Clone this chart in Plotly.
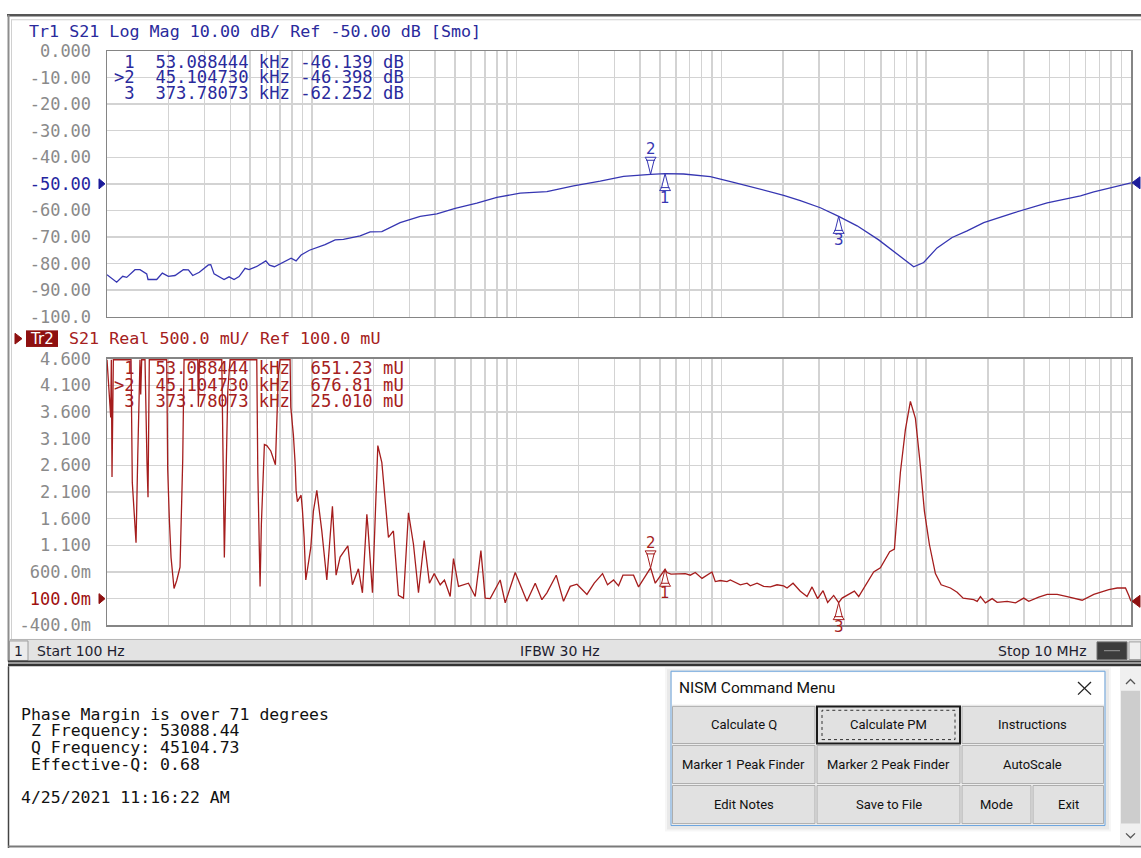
import numpy as np
import plotly.graph_objects as go

W, H = 1141, 858
MONO = "DejaVu Sans Mono"
SANS = "DejaVu Sans"
UI = "Roboto"

# ---------------- data ----------------
top_freq_hz = [100, 111.5, 119.3, 124.8, 137.0, 144.9, 156.3, 158.6, 174.9, 186.3, 199.3, 214.9,
               235.9, 249.6, 262.2, 282.4, 312.6, 321.1, 333.3, 372.9, 394.5, 417.3, 441.5, 472.3,
               494.0, 538.6, 596.3, 620.9, 656.8, 726.6, 792.4, 838.2, 886.7, 973.4, 1161, 1300,
               1427, 1722, 1927, 2198, 2413, 2700, 3382, 4080, 5013, 6397, 8011, 10410, 14060,
               18970, 25610, 33290, 45105, 53088, 65360, 88270, 114700, 154900, 201300, 242900,
               304200, 373781, 459700, 586100, 721000, 869000, 972300, 1130000, 1338000, 1584000,
               1910000, 2676000, 3896000, 5667000, 6581000, 10000000]
top_logmag_db = [-84.2, -87.0, -84.8, -85.2, -82.3, -82.3, -83.9, -86.0, -86.0, -83.6, -84.8, -84.5,
                 -82.3, -82.4, -84.5, -83.3, -80.5, -80.4, -83.9, -86.0, -85.0, -86.0, -84.9, -81.8,
                 -82.3, -81.1, -79.0, -80.6, -81.2, -79.6, -78.0, -79.0, -76.8, -75.0, -72.9, -71.1,
                 -70.9, -69.6, -68.1, -68.0, -66.4, -64.6, -62.2, -61.3, -59.2, -57.3, -55.1, -53.5,
                 -52.9, -50.8, -49.0, -47.2, -46.40, -46.14, -46.3, -47.3, -49.4, -52.1, -54.3,
                 -56.3, -59.0, -62.25, -65.8, -71.1, -76.3, -81.2, -79.6, -74.1, -70.2, -67.7,
                 -64.6, -60.9, -57.2, -54.5, -53.0, -49.6]

bot_freq_hz = [100, 104.3, 105.0, 105.8, 107.4, 131.0, 132.9, 135.0, 137.0, 138.6, 141.3, 144.9,
               146.1, 147.7, 153.3, 155.1, 156.8, 158.6, 160.9, 195.7, 197.9, 201.5, 205.5, 212.5,
               219.0, 227.3, 234.3, 237.8, 277.5, 279.3, 282.5, 363.4, 367.5, 370.0, 374.1, 378.4,
               384.5, 388.9, 399.0, 538.6, 545.0, 554.6, 559.0, 567.3, 586.8, 603.0, 630.7, 664.2,
               674.6, 686.8, 700.0, 783.4, 789.6, 813.0, 828.7, 838.1, 850.5, 886.6, 899.7, 917.1,
               934.8, 988.8, 1018, 1058, 1119, 1184, 1261, 1314, 1375, 1500, 1579, 1689, 1767,
               1857, 1878, 1978, 2101, 2198, 2367, 2503, 2649, 2803, 2965, 3136, 3318, 3538, 3753,
               3959, 4236, 4444, 4739, 4918, 5203, 5821, 6279, 6694, 7025, 7430, 8316, 8798, 9844,
               11230, 12330, 13290, 14060, 15610, 16950, 18270, 19710, 22050, 23940, 26280, 27800,
               29750, 31470, 33060, 37240, 39400, 45105, 47540, 53088, 54240, 56730, 61790, 66640,
               70470, 74560, 80410, 89950, 93370, 98760, 106500, 110500, 123700, 133400, 138400,
               149300, 160800, 173400, 186900, 201300, 209200, 223800, 242900, 261900, 277100,
               295100, 313600, 330300, 353300, 373781, 388400, 426400, 446000, 468100, 495000,
               554000, 597500, 663300, 699400, 721000, 748200, 791400, 837200, 885900, 929800,
               980000, 1036000, 1109000, 1183000, 1313000, 1416000, 1515000, 1706000, 1773000,
               1840000, 1946000, 2099000, 2220000, 2485000, 2728000, 2995000, 3168000, 3544000,
               3896000, 4360000, 4880000, 5775000, 6581000, 7791000, 8564000, 9400000, 9757000,
               10000000]
bot_real_u = [4.58, 3.50, 4.58, 2.38, 4.58, 4.58, 2.28, 1.91, 1.39, 1.15, 2.77, 4.58,
              3.93, 4.58, 4.58, 3.32, 2.64, 2.00, 4.58, 4.58, 2.52, 1.60, 0.87, 0.29,
              0.44, 0.69, 2.71, 4.58, 4.58, 3.70, 4.58, 4.58, 3.13, 1.79, 0.87, 1.79,
              3.01, 4.00, 4.58, 4.58, 2.47, 1.06, 0.33, 1.50, 2.99, 2.97, 2.87, 2.61,
              3.33, 4.31, 4.58, 4.58, 3.69, 3.17, 2.65, 2.13, 1.92, 2.04, 1.77, 1.25,
              0.45, 1.06, 1.74, 2.13, 1.37, 0.45, 1.83, 0.54, 0.88, 1.09, 0.36, 0.66, 0.21,
              1.68, 1.46, 0.21, 2.97, 2.65, 1.25, 1.37, 0.16, 0.11, 1.71, 1.12, 0.21, 1.19, 0.39,
              0.57, 0.36, 0.45, 0.14, 0.85, 0.33, 0.39, 0.14, 1.00, 0.11, 0.10, 0.45, 0.02, 0.59,
              0.05, 0.39, 0.08, 0.21, 0.54, 0.05, 0.33, 0.37, 0.18, 0.39, 0.57, 0.36,
              0.45, 0.34, 0.54, 0.54, 0.32, 0.677, 0.39, 0.651, 0.59, 0.56, 0.56, 0.57,
              0.54, 0.59, 0.48, 0.60, 0.42, 0.44, 0.42, 0.45, 0.36, 0.39, 0.34,
              0.39, 0.33, 0.32, 0.36, 0.34, 0.30, 0.39, 0.24, 0.14, 0.32,
              0.10, 0.25, 0.03, 0.16, 0.025, 0.11, 0.19, 0.24, 0.14, 0.30,
              0.60, 0.68, 0.98, 1.03, 1.61, 2.47, 3.27, 3.80, 3.48, 2.71,
              1.74, 1.12, 0.57, 0.36, 0.30, 0.22, 0.11, 0.08, 0.05,
              0.14, 0.02, 0.10, 0.03, 0.05, 0.02, 0.11, 0.05, 0.13,
              0.18, 0.18, 0.14, 0.07, 0.18, 0.27, 0.30, 0.30, 0.16,
              0.05]

marker_ids = ["1", "2", "3"]
marker_freq_hz = [53088.444, 45104.730, 373780.73]
marker_logmag_db = [-46.139, -46.398, -62.252]
marker_real_u = [0.65123, 0.67681, 0.025010]
marker_freq_text = ["53.088444 kHz", "45.104730 kHz", "373.78073 kHz"]
marker_db_text = ["-46.139 dB", "-46.398 dB", "-62.252 dB"]
marker_mu_text = ["651.23 mU", "676.81 mU", "25.010 mU"]
active_marker = "2"

top_tick_vals = [0, -10, -20, -30, -40, -50, -60, -70, -80, -90, -100]
top_tick_text = ["0.000", "-10.00", "-20.00", "-30.00", "-40.00", "-50.00", "-60.00",
                 "-70.00", "-80.00", "-90.00", "-100.0"]
bot_tick_vals = [4.6, 4.1, 3.6, 3.1, 2.6, 2.1, 1.6, 1.1, 0.6, 0.1, -0.4]
bot_tick_text = ["4.600", "4.100", "3.600", "3.100", "2.600", "2.100", "1.600", "1.100",
                 "600.0m", "100.0m", "-400.0m"]
top_ref, bot_ref = -50.0, 0.1
start_hz, stop_hz = 100, 1e7

header1 = "Tr1 S21 Log Mag 10.00 dB/ Ref -50.00 dB [Smo]"
header2 = "S21 Real 500.0 mU/ Ref 100.0 mU"
status_texts = ["Start 100 Hz", "IFBW 30 Hz", "Stop 10 MHz"]
notes_lines = ["Phase Margin is over 71 degrees", " Z Frequency: 53088.44",
               " Q Frequency: 45104.73", " Effective-Q: 0.68"]
notes_date = "4/25/2021 11:16:22 AM"
menu_title = "NISM Command Menu"
menu_rows = [["Calculate Q", "Calculate PM", "Instructions"],
             ["Marker 1 Peak Finder", "Marker 2 Peak Finder", "AutoScale"],
             ["Edit Notes", "Save to File", "Mode", "Exit"]]
focused_button = "Calculate PM"

# ---------------- styles ----------------
BLUE = "#3636b2"
BLUE_TXT = "#2a2a9c"
RED = "#a51d1d"
RED_TXT = "#a52020"
GRID = "#d3d3d3"
FRAME = "#858585"
TICK = "#8a8a8a"


def px(x):
    return x / W


def py(y):
    return 1 - y / H


shapes, anns = [], []


def text(x, y, s, size=17, color="#000", family=MONO, anchor="left", **kw):
    anns.append(dict(x=px(x), y=py(y), xref="paper", yref="paper", text=s, showarrow=False,
                     xanchor=anchor, yanchor="middle",
                     font=dict(family=family, size=size, color=color), **kw))


def rect(x0, y0, x1, y1, fill, line=None, lw=1, dash=None):
    shapes.append(dict(type="rect", xref="paper", yref="paper", x0=px(x0), x1=px(x1),
                       y0=py(y1), y1=py(y0), fillcolor=fill,
                       line=dict(color=line or "rgba(0,0,0,0)", width=lw if line else 0,
                                 dash=dash)))


def hline(x0, x1, y, color, lw=1):
    shapes.append(dict(type="line", xref="paper", yref="paper", x0=px(x0), x1=px(x1),
                       y0=py(y), y1=py(y), line=dict(color=color, width=lw)))


def vline(x, y0, y1, color, lw=1):
    shapes.append(dict(type="line", xref="paper", yref="paper", x0=px(x), x1=px(x),
                       y0=py(y0), y1=py(y1), line=dict(color=color, width=lw)))


def ppath(points, color, fill=None, lw=1, closed=True):
    d = "M " + " L ".join(f"{px(a):.6f},{py(b):.6f}" for a, b in points)
    if closed:
        d += " Z"
    shapes.append(dict(type="path", xref="paper", yref="paper", path=d,
                       fillcolor=fill or "rgba(0,0,0,0)", line=dict(color=color, width=lw)))


def anchored(xref, yref, xa, ya, path, color, fill="white", lw=1):
    shapes.append(dict(type="path", xref=xref, yref=yref, xsizemode="pixel", ysizemode="pixel",
                       xanchor=xa, yanchor=ya, path=path, fillcolor=fill,
                       line=dict(color=color, width=lw)))


def nb(s):
    return s.replace(" ", "&nbsp;")


# ---------------- traces ----------------
fig = go.Figure()
fig.add_trace(go.Scatter(x=top_freq_hz, y=top_logmag_db, mode="lines",
                         line=dict(color=BLUE, width=1.3), xaxis="x", yaxis="y",
                         hoverinfo="skip", showlegend=False))
fig.add_trace(go.Scatter(x=bot_freq_hz, y=bot_real_u, mode="lines",
                         line=dict(color=RED, width=1.3), xaxis="x2", yaxis="y2",
                         hoverinfo="skip", showlegend=False))

grid_hz = [m * 10 ** k for k in range(2, 7) for m in range(1, 10)] + [10 ** 7]
xcommon = dict(type="log", range=[np.log10(start_hz), np.log10(stop_hz)], tickvals=grid_hz,
               showticklabels=False, showgrid=True, gridcolor=GRID, gridwidth=1.5,
               showline=True, linecolor=FRAME, linewidth=1.5, mirror=True, zeroline=False,
               ticks="", layer="below traces", fixedrange=True,
               domain=[px(107), px(1131)])


def colored(vals, texts, ref, color):
    return [f"<span style='color:{color}'>{t}</span>" if abs(v - ref) < 1e-9 else t
            for v, t in zip(vals, texts)]


ycommon = dict(showgrid=True, gridcolor=GRID, gridwidth=1.5, showline=True, linecolor=FRAME,
               linewidth=1.5, mirror=True, zeroline=False, ticks="", ticklabelstandoff=11,
               layer="below traces", fixedrange=True,
               tickfont=dict(family=MONO, size=17, color=TICK))

# ---------------- frame / chrome ----------------
hline(7, W, 5.5, "#555555", 2.5)
hline(11, W, 10, "#d0d0d0", 1)
vline(8.5, 5, 667, "#8d8d8d", 2)
vline(11.5, 10, 644, "#d0d0d0", 1)

# headers
text(27, 21, header1, size=16.7, color=BLUE_TXT)
ppath([(15, 331), (15, 342), (22, 336.5)], "#8e1010", "#8e1010")
rect(26, 328, 58, 345, "#8e1010")
text(42, 336.5, "Tr2", size=15, color="white", family=SANS, anchor="center")
text(67, 336, header2, size=16.7, color=RED_TXT)

# marker readouts (one monospace line per marker)
for i, mid in enumerate(marker_ids):
    lab = (">" + mid) if mid == active_marker else mid
    line_db = f"{lab:>2}  {marker_freq_text[i]}{marker_db_text[i]:>11}"
    line_mu = f"{lab:>2}  {marker_freq_text[i]}{marker_mu_text[i]:>11}"
    text(112, [53, 69, 85][i], nb(line_db), size=17.2, color=BLUE_TXT)
    text(112, [367, 384, 400][i], nb(line_mu), size=17.2, color=RED_TXT)

# markers on traces (shape x positions on a log axis are given in data units)
DOWN = "M -5.5,17 L 5.5,17 L 3.5,14 L 0,0 L -3.5,14 Z M -4.5,14 L 4.5,14"
UP = "M -5.5,-17 L 5.5,-17 L 3.5,-14 L 0,0 L -3.5,-14 Z M -4.5,-14 L 4.5,-14"
IND = "M -6.5,-8.5 L 6.5,-8.5 L 0,-1.5 Z"
for i, mid in enumerate(marker_ids):
    f = marker_freq_hz[i]
    lf = float(np.log10(f))
    for (xr, yr, val, col, ymin) in [("x", "y", marker_logmag_db[i], BLUE, -100),
                                      ("x2", "y2", marker_real_u[i], RED, -0.4)]:
        down = (mid == active_marker)
        anchored(xr, yr, f, val, DOWN if down else UP, col)
        anns.append(dict(x=lf, y=val, xref=xr, yref=yr, text=mid, showarrow=False,
                         xanchor="center", yanchor="middle", yshift=25 if down else -24,
                         font=dict(family=SANS, size=15, color=col)))
        anchored(xr, yr, f, ymin, IND, col, fill=col if down else "white")

# reference-level arrows (left) and trace-end arrows (right)
anchored("paper", "y", px(107), top_ref, "M -8,5 L -8,-5 L -2,0 Z", "#1c1c9a", "#1c1c9a")
anchored("paper", "y2", px(107), bot_ref, "M -8,5 L -8,-5 L -2,0 Z", "#8e1010", "#8e1010")
anchored("paper", "y", px(1131), top_logmag_db[-1], "M 1,0 L 9,6 L 9,-6 Z", "#1c1c9a", "#1c1c9a")
anchored("paper", "y2", px(1131), bot_real_u[-1], "M 1,0 L 9,6 L 9,-6 Z", "#8e1010", "#8e1010")

# status bar
rect(10, 645, W, 667, "#e3e3e3")
hline(10, W, 644.5, "#b4b4b4", 1)
rect(9.5, 646, 28, 666, "#ececec", "#9c9c9c", 1)
text(18.5, 656, "1", size=14, color="#1e1e30", family=SANS, anchor="center")
text(35, 656, status_texts[0], size=14, color="#1e1e30", family=SANS)
text(560, 656, status_texts[1], size=14, color="#1e1e30", family=SANS, anchor="center")
text(1089, 656, status_texts[2], size=14, color="#1e1e30", family=SANS, anchor="right")
rect(1097, 647, 1127, 665, "#3c3c3c", "#707070", 1)
hline(1104, 1120, 656, "#9a9a9a", 1)
rect(1129, 647, W, 665, "#eeeeee", "#a0a0a0", 1)

# separator
rect(8, 666, W, 668, "#3d3d3d")
rect(8, 668, W, 669.5, "#9a9a9a")
rect(8, 669.5, W, 672, "#333333")

# notes panel
vline(8.5, 672, 858, "#444444", 1.5)
hline(8, W, 856.5, "#7a7a7a", 2)
for i, s in enumerate(notes_lines):
    text(19, 721 + 17 * i, nb(s), size=16.5, color="#111111")
text(19, 806, notes_date, size=16.5, color="#111111")

# scrollbar
rect(1120, 673, W, 855.5, "#f0f0f0")
rect(1121, 697, 1140, 833, "#cdcdcd")
ppath([(1126, 690), (1130.5, 685.5), (1135, 690)], "#555555", lw=1.3, closed=False)
ppath([(1126, 843), (1130.5, 847.5), (1135, 843)], "#555555", lw=1.3, closed=False)

# command menu dialog
rect(665, 673, 1111, 841, "rgba(0,0,0,0.035)")
rect(667, 675, 1109, 839, "rgba(0,0,0,0.05)")
rect(671, 677, 1105, 835, "#f0f0f0", "#6aa4de", 1)
rect(672, 678, 1104, 711, "#ffffff")
text(677, 694, menu_title, size=15.5, color="#111111", family=UI)
shapes.append(dict(type="line", xref="paper", yref="paper", x0=px(1078), x1=px(1091),
                   y0=py(688), y1=py(701), line=dict(color="#222222", width=1.3)))
shapes.append(dict(type="line", xref="paper", yref="paper", x0=px(1078), x1=px(1091),
                   y0=py(701), y1=py(688), line=dict(color="#222222", width=1.3)))
row_y = [(713, 751), (753, 792), (794, 833)]
col3 = [(672.5, 815), (817, 960), (962, 1103.5)]
col4 = [(672.5, 815), (817, 960), (962, 1031), (1033, 1103.5)]
for r, labels in enumerate(menu_rows):
    cols = col3 if len(labels) == 3 else col4
    y0, y1 = row_y[r]
    for (x0, x1), lab in zip(cols, labels):
        if lab == focused_button:
            rect(x0, y0, x1, y1, "#e1e1e1", "#1a1a1a", 2)
            rect(x0 + 5, y0 + 4, x1 - 5, y1 - 4, "rgba(0,0,0,0)", "#333333", 1, dash="dot")
        else:
            rect(x0, y0, x1, y1, "#e1e1e1", "#adadad", 1)
        text((x0 + x1) / 2, (y0 + y1) / 2, lab, size=13, color="#111111", family=UI,
             anchor="center")

fig.update_layout(
    width=W, height=H, autosize=False, margin=dict(l=0, r=0, t=0, b=0, pad=0),
    paper_bgcolor="white", plot_bgcolor="white", showlegend=False, hovermode=False,
    xaxis=dict(anchor="y", **xcommon),
    xaxis2=dict(anchor="y2", **xcommon),
    yaxis=dict(anchor="x", domain=[py(314), py(42)], range=[-100, 0], tickvals=top_tick_vals,
               ticktext=colored(top_tick_vals, top_tick_text, top_ref, "#2424a0"), **ycommon),
    yaxis2=dict(anchor="x2", domain=[py(630), py(357)], range=[-0.4, 4.6],
                tickvals=bot_tick_vals,
                ticktext=colored(bot_tick_vals, bot_tick_text, bot_ref, "#a01010"), **ycommon),
    shapes=shapes, annotations=anns,
)

fig.write_html("out.html", config={"displayModeBar": False, "staticPlot": True},
               post_script="document.body.style.margin='0';document.body.style.overflow='hidden';")
